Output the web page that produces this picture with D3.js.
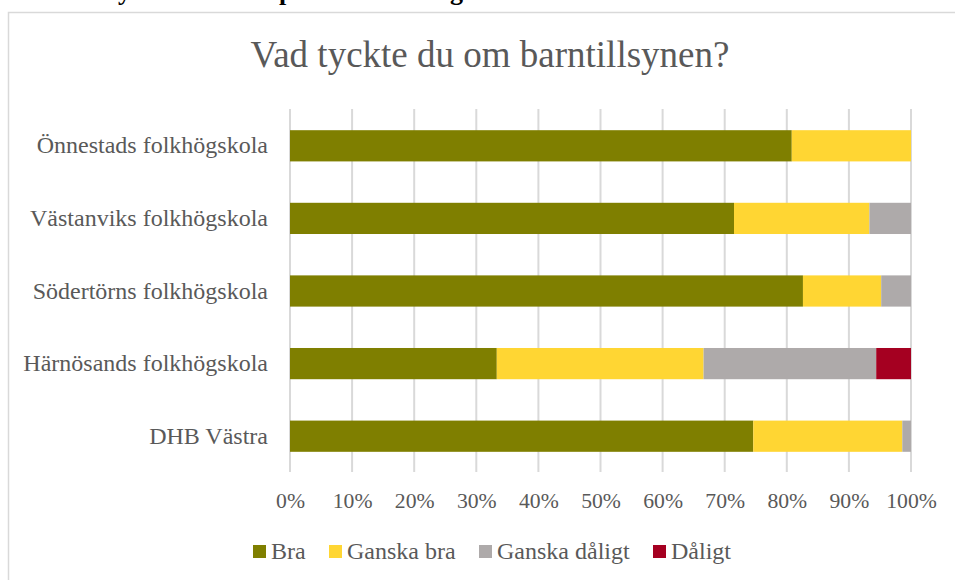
<!DOCTYPE html>
<html><head><meta charset="utf-8">
<script src="https://cdn.jsdelivr.net/npm/d3@7"></script>
<style>
html,body{margin:0;padding:0;background:#fff;}
svg{display:block;}
</style></head>
<body>
<svg id="chart" width="955" height="580"></svg>
<script>
const categories = ["Önnestads folkhögskola","Västanviks folkhögskola","Södertörns folkhögskola","Härnösands folkhögskola","DHB Västra"];
const seriesNames = ["Bra","Ganska bra","Ganska dåligt","Dåligt"];
const bra          = [80.8, 71.5, 82.6, 33.3, 74.6];
const ganskaBra    = [19.2, 21.8, 12.6, 33.3, 24.0];
const ganskaDaligt = [0,     6.7,  4.8, 27.8,  1.4];
const daligt       = [0,     0,    0,    5.6,  0];
const tickValues = [0,10,20,30,40,50,60,70,80,90,100];
const colors = ["#7f7f00","#ffd633","#aeaaaa","#a50021"];
const title = "Vad tyckte du om barntillsynen?";

const svg = d3.select("#chart");
const textColor = "#595959";
const font = "'Liberation Serif','Times New Roman',serif";

// cut-off heading fragments above the frame (as in the reference)
[["y",118],["p",279],["g",450]].forEach(([t,x])=>{
  svg.append("text").attr("x",x).attr("y",0).attr("font-family",font).attr("font-weight","bold")
    .attr("font-size",26).attr("fill","#000").text(t);
});

// frame
svg.append("rect").attr("x",8.5).attr("y",12.5).attr("width",960).attr("height",600)
  .attr("fill","none").attr("stroke","#d9d9d9").attr("stroke-width",1.5);

const x = d3.scaleLinear().domain([0,100]).range([290,911]);
const y = d3.scaleBand().domain(categories).range([109.5,472.5]).paddingInner(0.57).paddingOuter(0.285);

// gridlines
svg.append("g").selectAll("line").data(tickValues).join("line")
  .attr("x1",d=>x(d)).attr("x2",d=>x(d)).attr("y1",109).attr("y2",472)
  .attr("stroke","#d9d9d9").attr("stroke-width",2);

const data = categories.map((c,i)=>({cat:c, "Bra":bra[i], "Ganska bra":ganskaBra[i], "Ganska dåligt":ganskaDaligt[i], "Dåligt":daligt[i]}));
const stack = d3.stack().keys(seriesNames)(data);
svg.append("g").selectAll("g").data(stack).join("g")
  .attr("fill",(d,i)=>colors[i])
  .selectAll("rect").data(d=>d).join("rect")
  .attr("x",d=>x(d[0])).attr("width",d=>Math.max(0,x(d[1])-x(d[0])))
  .attr("y",d=>y(d.data.cat)).attr("height",y.bandwidth());

// category labels
const yAxis = d3.axisLeft(y).tickSize(0).tickPadding(22);
const gy = svg.append("g").attr("transform","translate(290,0)").call(yAxis);
gy.select(".domain").remove();
gy.selectAll("text").attr("font-family",font).attr("font-size",24).attr("fill",textColor).attr("dy","0.32em");

// x axis
const xAxis = d3.axisBottom(x).tickValues(tickValues).tickFormat(d=>d+"%").tickSize(0).tickPadding(0);
const gx = svg.append("g").attr("transform","translate(0,472)").call(xAxis);
gx.select(".domain").remove();
gx.selectAll("text").attr("font-family",font).attr("font-size",21.7).attr("fill",textColor)
  .attr("dy",null).attr("y",36);

// title
svg.append("text").attr("x",490).attr("y",67).attr("text-anchor","middle")
  .attr("font-family",font).attr("font-size",37).attr("fill",textColor).text(title);

// legend
const legendX = [253,329,479,653];
const lg = svg.append("g").selectAll("g").data(seriesNames).join("g")
  .attr("transform",(d,i)=>`translate(${legendX[i]},0)`);
lg.append("rect").attr("x",0).attr("y",545).attr("width",13).attr("height",13).attr("fill",(d,i)=>colors[i]);
lg.append("text").attr("x",18).attr("y",559).attr("font-family",font).attr("font-size",24)
  .attr("fill",textColor).text(d=>d);
</script>
</body></html>
